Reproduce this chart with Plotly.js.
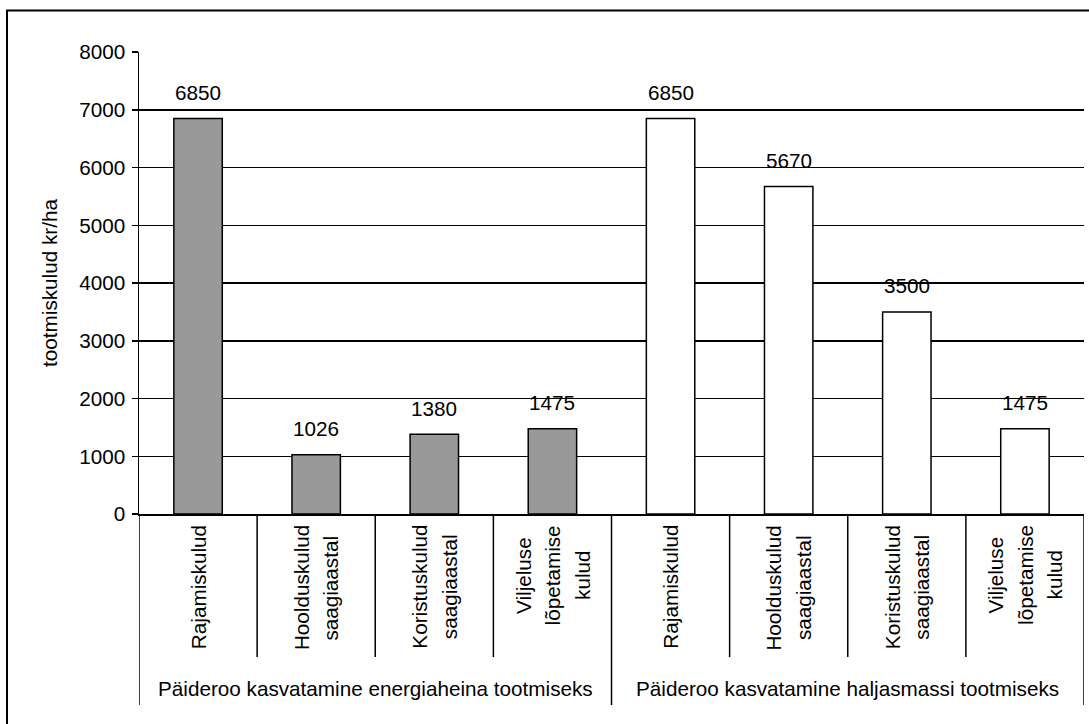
<!DOCTYPE html>
<html>
<head>
<meta charset="utf-8">
<script src="https://cdn.plot.ly/plotly-3.0.1.min.js"></script>
<style>
html,body{margin:0;padding:0;background:#fff;}
#chart{width:1089px;height:724px;}
</style>
</head>
<body>
<div id="chart"></div>
<script>
// ---- data ----
var groups = ["Päideroo kasvatamine energiaheina tootmiseks", "Päideroo kasvatamine haljasmassi tootmiseks"];
var categories = [["Rajamiskulud"], ["Hoolduskulud", "saagiaastal"], ["Koristuskulud", "saagiaastal"], ["Viljeluse", "lõpetamise", "kulud"]];
var energiaValues = [6850, 1026, 1380, 1475];
var haljasValues = [6850, 5670, 3500, 1475];
var yTickVals = [0, 1000, 2000, 3000, 4000, 5000, 6000, 7000, 8000];
var yTitle = "tootmiskulud kr/ha";

// ---- layout geometry ----
var W = 1089, H = 724;
var M = {l: 139, r: 5, t: 52, b: 210};
var PW = W - M.l - M.r, PH = H - M.t - M.b;
function px2x(px){ return (px - M.l) / PW; }
function px2y(py){ return (H - M.b - py) / PH; }

var FONT = "Liberation Sans, Arial, Helvetica, sans-serif";
var FS = 20.7;
var LINE_SP = 29.5;

var ctx = document.createElement("canvas").getContext("2d");
ctx.font = FS + "px 'Liberation Sans', Arial, sans-serif";
function textW(s){ return ctx.measureText(s).width; }

var nCat = categories.length;
var xAll = [];
for (var i = 0; i < 2 * nCat; i++) xAll.push(i);
var xE = xAll.slice(0, nCat), xH = xAll.slice(nCat);

var traces = [
  {type: "bar", x: xE, y: energiaValues, width: 0.41,
   marker: {color: "#999999", line: {color: "#000", width: 1.5}}, hoverinfo: "y", showlegend: false},
  {type: "bar", x: xH, y: haljasValues, width: 0.41,
   marker: {color: "#ffffff", line: {color: "#000", width: 1.5}}, hoverinfo: "y", showlegend: false}
];

var annotations = [];
var allVals = energiaValues.concat(haljasValues);
allVals.forEach(function(v, i){
  annotations.push({x: i, y: v, xref: "x", yref: "y", text: String(v), showarrow: false,
    yanchor: "middle", xanchor: "center", yshift: 26, font: {family: FONT, size: FS, color: "#000"}});
});
// category labels (rotated, lines centred on each other, block top-aligned)
for (var g = 0; g < 2; g++) {
  for (var c = 0; c < nCat; c++) {
    var lines = categories[c];
    var maxW = Math.max.apply(null, lines.map(textW));
    var cy = 525 + maxW / 2;
    lines.forEach(function(ln, j){
      annotations.push({x: g * nCat + c, y: px2y(cy), xref: "x", yref: "paper", text: ln,
        showarrow: false, textangle: -90, xanchor: "center", yanchor: "middle",
        xshift: (j - (lines.length - 1) / 2) * LINE_SP,
        font: {family: FONT, size: FS, color: "#000"}});
    });
  }
  annotations.push({x: g * nCat + (nCat - 1) / 2, y: px2y(688), xref: "x", yref: "paper", text: groups[g],
    showarrow: false, xanchor: "center", yanchor: "middle", font: {family: FONT, size: FS, color: "#000"}});
}

var shapes = [];
for (var k = 0; k <= 2 * nCat; k++) {
  var isGroupEdge = (k % nCat === 0);
  shapes.push({type: "line", xref: "x", yref: "paper", x0: k - 0.5, x1: k - 0.5,
    y0: 0, y1: px2y(isGroupEdge ? 705 : 657), line: {color: "#000", width: 1.5}});
}
shapes.push({type: "rect", xref: "paper", yref: "paper", x0: px2x(7), x1: px2x(1100),
  y0: px2y(740), y1: px2y(10.5), line: {color: "#000", width: 2}, fillcolor: "rgba(0,0,0,0)"});

var layout = {
  width: W, height: H,
  margin: M,
  paper_bgcolor: "#fff", plot_bgcolor: "#fff",
  font: {family: FONT, size: FS, color: "#000"},
  bargap: 0,
  xaxis: {range: [-0.5, 2 * nCat - 0.5], showticklabels: false, showgrid: false, zeroline: false,
    showline: true, linecolor: "#000", linewidth: 1.5, ticks: "", fixedrange: true},
  yaxis: {range: [0, 8000], tickvals: yTickVals, showgrid: true, gridcolor: "#000", gridwidth: 1.5,
    zeroline: false, showline: true, linecolor: "#000", linewidth: 1.5,
    ticks: "outside", ticklen: 6, tickwidth: 1.5, tickcolor: "#000", ticklabelstandoff: 2,
    tickfont: {family: FONT, size: FS, color: "#000"},
    title: {text: yTitle, font: {family: FONT, size: FS, color: "#000"}, standoff: 16},
    automargin: false, fixedrange: true},
  annotations: annotations,
  shapes: shapes,
  showlegend: false
};

Plotly.newPlot("chart", traces, layout, {displayModeBar: false, staticPlot: true});
</script>
</body>
</html>
